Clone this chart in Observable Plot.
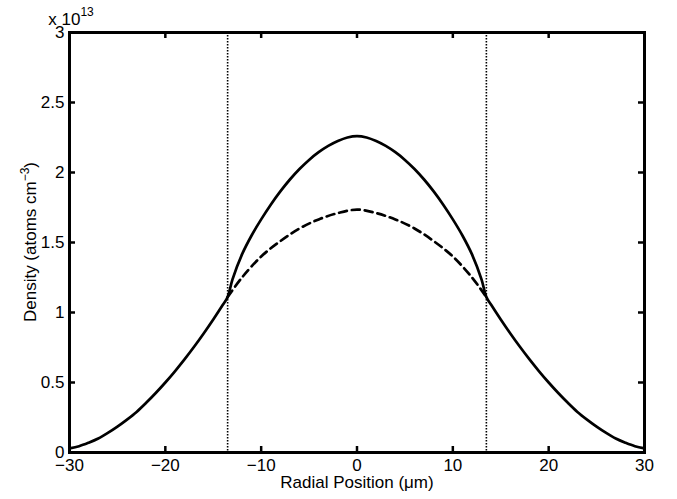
<!DOCTYPE html>
<html><head><meta charset="utf-8">
<script src="https://cdn.jsdelivr.net/npm/d3@7"></script>
<script src="https://cdn.jsdelivr.net/npm/@observablehq/plot@0.6"></script>
<style>
body{margin:0;background:#fff}
svg{font-family:"Liberation Sans",Arial,Helvetica,sans-serif}
</style>
</head><body><div id="chart"></div>
<script>
// Tick labels
const xTicks = [-30, -20, -10, 0, 10, 20, 30];
const yTicks = [0, 0.5, 1, 1.5, 2, 2.5, 3];
const yExponent = 13; // density values are in units of 1e13 atoms cm^-3

// Outer wings (|r| in µm), symmetric about r = 0
const wingR = [13.5, 14, 15, 16, 17, 18, 19, 20, 21, 22, 23, 24, 25, 26, 27, 28, 29, 30];
const wingDensity = [1.11, 1.055, 0.95, 0.85, 0.755, 0.665, 0.58, 0.50, 0.425, 0.355, 0.29, 0.235, 0.185, 0.14, 0.10, 0.07, 0.045, 0.03];

// Core, solid curve (|r| in µm)
const coreR = [0, 1, 2, 3, 4, 5, 6, 7, 8, 9, 10, 11, 12, 13, 13.5];
const coreSolid = [2.26, 2.25, 2.225, 2.19, 2.145, 2.09, 2.025, 1.95, 1.865, 1.77, 1.665, 1.55, 1.415, 1.235, 1.11];

// Core, dashed curve (|r| in µm)
const dashR = [0, 2, 4, 6, 8, 10, 12, 13.5];
const dashDensity = [1.735, 1.71, 1.665, 1.60, 1.51, 1.40, 1.25, 1.11];

// Core boundaries (dotted verticals)
const boundaries = [-13.5, 13.5];

function mirror(rs, ds) {
  const left = rs.map((r, i) => ({r: -r, d: ds[i]})).reverse();
  const right = rs.map((r, i) => ({r, d: ds[i]}));
  return left.concat(right.slice(rs[0] === 0 ? 1 : 0));
}
const wingLeft = wingR.map((r, i) => ({r: -r, d: wingDensity[i]})).reverse();
const wingRight = wingR.map((r, i) => ({r, d: wingDensity[i]}));
const core = mirror(coreR, coreSolid);
const solid = [...wingLeft.slice(0, -1), ...core, ...wingRight.slice(1)];
const dashed = mirror(dashR, dashDensity);

const fmt = d => (d < 0 ? "\u2212" + (-d) : String(d));

const W = 677, H = 499, mL = 69, mR = 33, mT = 32, mB = 47;
const xDomain = [-30, 30], yDomain = [0, 3];
const frameW = W - mL - mR, frameH = H - mT - mB, tickLen = 6;
// tick length expressed in each scale's units
const tx = tickLen * (xDomain[1] - xDomain[0]) / frameW;
const ty = tickLen * (yDomain[1] - yDomain[0]) / frameH;

const chart = Plot.plot({
  width: W,
  height: H,
  marginLeft: mL,
  marginRight: mR,
  marginTop: mT,
  marginBottom: mB,
  style: {fontFamily: "'Liberation Sans', Arial, Helvetica, sans-serif", fontSize: "17px", background: "#fff", color: "#000"},
  x: {domain: xDomain},
  y: {domain: yDomain},
  marks: [
    Plot.ruleX(boundaries, {stroke: "#000", strokeWidth: 1.6, strokeDasharray: "1.5,1.5"}),
    Plot.line(solid, {x: "r", y: "d", curve: "catmull-rom", stroke: "#000", strokeWidth: 2.7}),
    Plot.line(dashed, {x: "r", y: "d", curve: "catmull-rom", stroke: "#000", strokeWidth: 2.7, strokeDasharray: "8,5"}),
    // inward ticks on all four sides
    Plot.ruleX(xTicks, {x: d => d, y1: yDomain[0], y2: yDomain[0] + ty, stroke: "#000", strokeWidth: 2.5}),
    Plot.ruleX(xTicks, {x: d => d, y1: yDomain[1], y2: yDomain[1] - ty, stroke: "#000", strokeWidth: 2.5}),
    Plot.ruleY(yTicks, {y: d => d, x1: xDomain[0], x2: xDomain[0] + tx, stroke: "#000", strokeWidth: 2.5}),
    Plot.ruleY(yTicks, {y: d => d, x1: xDomain[1], x2: xDomain[1] - tx, stroke: "#000", strokeWidth: 2.5}),
    Plot.frame({stroke: "#000", strokeWidth: 3}),
    // tick labels
    Plot.axisX(xTicks, {anchor: "bottom", tickSize: 0, tickPadding: 6, tickFormat: fmt, label: null, fontSize: 17}),
    Plot.axisY(yTicks, {anchor: "left", tickSize: 0, tickPadding: 5, tickFormat: fmt, label: null, fontSize: 17})
  ]
});

const svg = d3.select(chart);
// x label
svg.append("text")
  .attr("x", 357).attr("y", 488)
  .attr("text-anchor", "middle")
  .attr("font-size", 17)
  .attr("fill", "#000")
  .text("Radial Position (\u03bcm)");
// y label with superscript
const yl = svg.append("text")
  .attr("transform", "translate(36,242) rotate(-90)")
  .attr("text-anchor", "middle")
  .attr("font-size", 17)
  .attr("fill", "#000");
yl.append("tspan").text("Density (atoms cm");
yl.append("tspan").attr("font-size", 12).attr("dy", -7).text("\u22123");
yl.append("tspan").attr("dy", 7).text(")");
// exponent
const ex = svg.append("text")
  .attr("x", 71).attr("y", 25)
  .attr("font-size", 17)
  .attr("fill", "#000");
ex.append("tspan").text("x 10");
ex.append("tspan").attr("font-size", 12).attr("dy", -9).text(String(yExponent));

document.getElementById("chart").appendChild(chart);
</script>
</body></html>
